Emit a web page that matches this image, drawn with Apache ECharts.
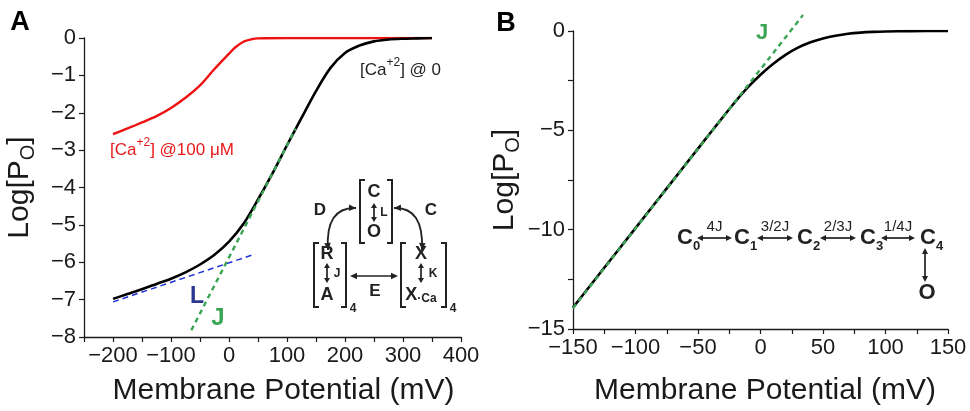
<!DOCTYPE html>
<html><head><meta charset="utf-8">
<script src="https://cdn.jsdelivr.net/npm/echarts@6/dist/echarts.min.js"></script>
<style>html,body{margin:0;padding:0;background:#fff}#c{width:970px;height:411px}</style>
</head><body><div id="c"></div>
<script>
// ---------- data ----------
const redX   = [-200,-175,-150,-125,-100,-75,-50,-25,0,10,25,40,50,100,200,350];
const redY   = [-2.57,-2.42,-2.26,-2.09,-1.87,-1.60,-1.27,-0.83,-0.42,-0.26,-0.10,-0.03,-0.01,0,0,0];
const blackAX = [-200,-175,-150,-125,-100,-75,-50,-25,0,25,50,75,100,125,150,175,200,225,250,275,300,325,350];
const blackAY = [-6.98,-6.85,-6.72,-6.58,-6.44,-6.27,-6.06,-5.80,-5.45,-4.97,-4.32,-3.62,-2.87,-2.14,-1.42,-0.80,-0.40,-0.20,-0.09,-0.04,-0.02,-0.01,0];
const lineLX = [-200, 45];
const lineLY = [-7.06, -5.78];
const lineJAX = [-65, 115];
const lineJAY = [-7.82, -2.42];
const blackBX = [-150,-125,-100,-75,-50,-40,-30,-20,-10,0,10,20,30,40,50,60,70,80,90,100,120,150];
const blackBY = [-13.92,-11.92,-9.92,-7.92,-5.92,-5.12,-4.33,-3.55,-2.83,-2.2,-1.66,-1.2,-0.84,-0.57,-0.38,-0.24,-0.14,-0.08,-0.045,-0.025,-0.008,0];
const lineJBX = [-150, 34];
const lineJBY = [-13.95, 0.8];
const ticksAX = {min:-250, max:400, step:50, labelStep:100};
const ticksAY = {min:-8, max:0, step:1, labelStep:1};
const ticksBX = {min:-150, max:150, step:25, labelStep:50};
const ticksBY = {min:-15, max:0, step:2.5, labelStep:5};

const FF = 'Liberation Sans, Arial, sans-serif';
const INK = '#1a1a1a';
const zip = (xs, ys) => xs.map((x, i) => [x, ys[i]]);
const fmt = step => v => (Math.abs(v / step - Math.round(v / step)) < 1e-9) ? String(v).replace('-', '\u2212') : '';

function axis(t, extra) {
  return Object.assign({
    type: 'value', min: t.min, max: t.max, interval: t.step,
    axisLine: {show: true, onZero: false, lineStyle: {color: INK, width: 1.3}},
    axisTick: {show: true, length: 5, inside: false, lineStyle: {color: INK, width: 1.2}},
    splitLine: {show: false},
    axisLabel: {formatter: fmt(t.labelStep), fontSize: 22, color: INK, fontFamily: FF, margin: 8,
                showMinLabel: true, showMaxLabel: true, hideOverlap: false}
  }, extra);
}
const yName = {fontSize: 30, color: INK, fontFamily: FF, lineHeight: 36,
  rich: {s: {fontSize: 20, lineHeight: 16, verticalAlign: 'bottom', fontFamily: FF, color: INK}}};

// ---------- schematic helpers ----------
const S = '#222';
const G = [];
function txt(x, y, text, size, opts) {
  opts = opts || {};
  G.push({type: 'text', x: x, y: y, silent: true, style: Object.assign({
    text: text, fontSize: size, fontWeight: opts.w || 'bold', fontFamily: FF, fill: opts.c || S,
    align: opts.a || 'center', verticalAlign: 'middle', textAlign: opts.a || 'center', textVerticalAlign: 'middle'
  }, opts.st || {})});
}
function head(tx, ty, dx, dy, len, w) {
  const bx = tx - dx * len, by = ty - dy * len, px = -dy * w, py = dx * w;
  G.push({type: 'polygon', silent: true, shape: {points: [[tx, ty], [bx + px, by + py], [bx - px, by - py]]}, style: {fill: S}});
}
function dbl(x1, y1, x2, y2, len, w) {
  len = len || 6; w = w || 3;
  const L = Math.hypot(x2 - x1, y2 - y1), dx = (x2 - x1) / L, dy = (y2 - y1) / L;
  G.push({type: 'line', silent: true, shape: {x1: x1 + dx * len * 0.7, y1: y1 + dy * len * 0.7, x2: x2 - dx * len * 0.7, y2: y2 - dy * len * 0.7},
          style: {stroke: S, lineWidth: 1.7}});
  head(x2, y2, dx, dy, len, w); head(x1, y1, -dx, -dy, len, w);
}
function curved(x1, y1, cx, cy, x2, y2) {
  G.push({type: 'bezierCurve', silent: true, shape: {x1: x1, y1: y1, x2: x2, y2: y2, cpx1: cx, cpy1: cy},
          style: {stroke: S, lineWidth: 1.8, fill: null}});
  let L = Math.hypot(x1 - cx, y1 - cy); head(x1, y1, (x1 - cx) / L, (y1 - cy) / L, 7, 3.3);
  L = Math.hypot(x2 - cx, y2 - cy); head(x2, y2, (x2 - cx) / L, (y2 - cy) / L, 7, 3.3);
}
function bracket(x, top, bot, dir) {
  G.push({type: 'polyline', silent: true, shape: {points: [[x + dir * 5, top], [x, top], [x, bot], [x + dir * 5, bot]]},
          style: {stroke: S, lineWidth: 2, fill: null}});
}

// panel letters
txt(20, 23, 'A', 27, {c: '#000'});
txt(506, 24, 'B', 27, {c: '#000'});

// curve annotations
const supS = {fontSize: 12, lineHeight: 10, verticalAlign: 'top', fontFamily: FF};
txt(360, 70, '[Ca{s|+2}] @ 0', 17, {w: 'normal', a: 'left', c: '#222', st: {lineHeight: 26, rich: {s: Object.assign({fill: '#222'}, supS)}}});
txt(110, 150, '[Ca{s|+2}] @100 \u03bcM', 17, {w: 'normal', a: 'left', c: '#e8191a', st: {lineHeight: 26, rich: {s: Object.assign({fill: '#e8191a'}, supS)}}});
txt(197, 297, 'L', 23, {c: '#2b3690'});
txt(218, 318, 'J', 24, {c: '#3aa655'});
txt(762, 33, 'J', 22, {c: '#3aa655'});

// Panel A schematic
bracket(360, 180, 243, 1); bracket(392, 180, 243, -1);
txt(374, 192, 'C', 18); dbl(374, 203, 374, 222, 5, 3); txt(384, 213, 'L', 12); txt(374, 232, 'O', 18);
bracket(314, 243, 307, 1); bracket(346, 243, 307, -1);
txt(327, 254, 'R', 18); dbl(327, 263, 327, 283, 5, 3); txt(337, 274, 'J', 12); txt(327, 295, 'A', 18);
txt(353, 309, '4', 12);
bracket(401, 243, 307, 1); bracket(446, 243, 307, -1);
txt(421, 254, 'X', 18); dbl(421, 263, 421, 283, 5, 3); txt(433, 274, 'K', 12);
txt(421, 295, 'X{s|\u00b7Ca}', 18, {st: {rich: {s: {fontSize: 12, fontWeight: 'bold', fontFamily: FF, fill: S, verticalAlign: 'bottom', lineHeight: 14}}, lineHeight: 20}});
txt(453, 309, '4', 12);
dbl(350, 276, 398, 276, 7, 3.3);
txt(375, 291, 'E', 17);
txt(320, 210, 'D', 17);
txt(431, 210, 'C', 17);
curved(328, 250, 325, 207, 356, 208);
curved(394, 208, 424, 207, 422, 250);

// Panel B schematic
const subRich = {s: {fontSize: 13, fontWeight: 'bold', fontFamily: FF, fill: S, lineHeight: 12, verticalAlign: 'bottom'}};
[[677, '0'], [734, '1'], [797, '2'], [860, '3'], [920, '4']].forEach(function (c) {
  txt(c[0], 238, 'C{s|' + c[1] + '}', 22, {a: 'left', st: {lineHeight: 30, rich: subRich}});
});
[[697, 732, '4J'], [757, 793, '3/2J'], [820, 856, '2/3J'], [881, 915, '1/4J']].forEach(function (a) {
  dbl(a[0], 238, a[1], 238, 6, 3);
  txt((a[0] + a[1]) / 2, 227, a[2], 15, {w: 'normal'});
});
dbl(925, 248, 925, 282, 6, 3);
txt(927, 293, 'O', 22);

// ---------- chart ----------
const chart = echarts.init(document.getElementById('c'), null, {renderer: 'canvas'});
chart.setOption({
  animation: false,
  backgroundColor: '#fff',
  grid: [
    {left: 84, top: 38, width: 377, height: 307},
    {left: 573, top: 31, width: 375, height: 306}
  ],
  xAxis: [
    axis(ticksAX, {gridIndex: 0, name: 'Membrane Potential (mV)', nameLocation: 'middle', nameGap: 39,
      nameTextStyle: {fontSize: 30, color: INK, fontFamily: FF, padding: [0, 0, 0, 22]}}),
    axis(ticksBX, {gridIndex: 1, name: 'Membrane Potential (mV)', nameLocation: 'middle', nameGap: 47,
      nameTextStyle: {fontSize: 30, color: INK, fontFamily: FF, padding: [0, 0, 0, 9]}})
  ],
  yAxis: [
    axis(ticksAY, {gridIndex: 0, name: 'Log[P{s|O}]', nameLocation: 'middle', nameRotate: 90, nameGap: 46, nameTextStyle: yName}),
    axis(ticksBY, {gridIndex: 1, name: 'Log[P{s|O}]', nameLocation: 'middle', nameRotate: 90, nameGap: 50, nameTextStyle: yName})
  ],
  series: [
    {type: 'line', xAxisIndex: 0, yAxisIndex: 0, data: zip(redX, redY), symbol: 'none', smooth: 0.25,
     lineStyle: {color: '#ee1111', width: 2.4}},
    {type: 'line', xAxisIndex: 0, yAxisIndex: 0, data: zip(blackAX, blackAY), symbol: 'none', smooth: 0.3,
     lineStyle: {color: '#000', width: 2.6}},
    {type: 'line', xAxisIndex: 0, yAxisIndex: 0, data: zip(lineLX, lineLY), symbol: 'none',
     lineStyle: {color: '#2233dd', width: 1.5, type: [6, 4]}},
    {type: 'line', xAxisIndex: 0, yAxisIndex: 0, data: zip(lineJAX, lineJAY), symbol: 'none',
     lineStyle: {color: '#3aa655', width: 2.4, type: [5, 4]}},
    {type: 'line', xAxisIndex: 1, yAxisIndex: 1, data: zip(blackBX, blackBY), symbol: 'none', smooth: 0.3,
     lineStyle: {color: '#000', width: 2.6}},
    {type: 'line', xAxisIndex: 1, yAxisIndex: 1, data: zip(lineJBX, lineJBY), symbol: 'none', clip: false,
     lineStyle: {color: '#3aa655', width: 2.4, type: [5, 4]}}
  ],
  graphic: G
});
</script></body></html>
